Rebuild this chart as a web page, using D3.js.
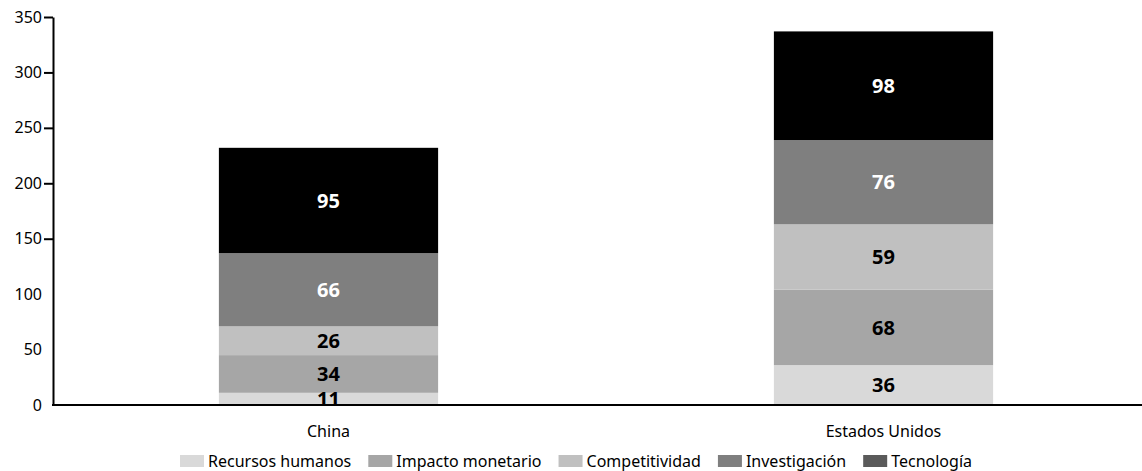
<!DOCTYPE html>
<html>
<head>
<meta charset="utf-8">
<script src="https://cdn.jsdelivr.net/npm/d3@7"></script>
<style>
  html, body { margin: 0; padding: 0; background: #fff; }
  svg { display: block; font-family: "Noto Sans", "Open Sans", sans-serif; }
</style>
</head>
<body>
<svg id="chart" width="1142" height="471"></svg>
<script>
// Countries on the x axis
const countries = ["China", "Estados Unidos"];
// Stacked components, bottom to top
const seriesNames = ["Recursos humanos", "Impacto monetario", "Competitividad", "Investigación", "Tecnología"];
const chinaValues = [11, 34, 26, 66, 95];
const usaValues = [36, 68, 59, 76, 98];
const barColors = ["#d9d9d9", "#a6a6a6", "#c0c0c0", "#7f7f7f", "#000000"];
const swatchColors = ["#d9d9d9", "#a6a6a6", "#c0c0c0", "#7f7f7f", "#5a5a5a"];
const labelColors = ["#000", "#000", "#000", "#fff", "#fff"];
const yTicks = [0, 50, 100, 150, 200, 250, 300, 350];

const svg = d3.select("#chart");
const chartW = 1142;
const plotLeft = 53, plotTop = 17, plotBottom = 405;

const rows = countries.map((c, i) => {
  const vals = [chinaValues, usaValues][i];
  const r = { country: c };
  seriesNames.forEach((s, k) => r[s] = vals[k]);
  return r;
});

const layers = d3.stack().keys(seriesNames)(rows);

const x = d3.scaleBand()
  .domain(countries)
  .range([51, 1161])
  .paddingInner(0.605)
  .paddingOuter(0.3025);

const y = d3.scaleLinear().domain([0, 350]).range([plotBottom, plotTop]);

// Bars
const layerG = svg.append("g").selectAll("g")
  .data(layers).join("g")
  .attr("fill", (d, i) => barColors[i]);

layerG.selectAll("rect")
  .data(d => d).join("rect")
  .attr("x", d => x(d.data.country))
  .attr("width", x.bandwidth())
  .attr("y", d => y(d[1]))
  .attr("height", d => y(d[0]) - y(d[1]));

// Value labels
layers.forEach((layer, i) => {
  svg.append("g").selectAll("text")
    .data(layer).join("text")
    .attr("x", d => x(d.data.country) + x.bandwidth() / 2)
    .attr("y", d => (y(d[0]) + y(d[1])) / 2)
    .attr("dy", "0.36em")
    .attr("text-anchor", "middle")
    .attr("font-size", 20)
    .attr("font-weight", 700)
    .attr("fill", labelColors[i])
    .text(d => d[1] - d[0]);
});

// Y axis
const yAxis = svg.append("g")
  .attr("transform", `translate(${plotLeft},0)`)
  .call(d3.axisLeft(y).tickValues(yTicks).tickSize(9).tickPadding(2).tickSizeOuter(0));
yAxis.select(".domain").attr("stroke", "#000").attr("stroke-width", 2);
yAxis.selectAll(".tick line")
  .attr("stroke", "#000").attr("stroke-width", 2)
  .attr("display", d => d >= 150 ? null : "none");
yAxis.selectAll(".tick text")
  .attr("font-size", 16).attr("fill", "#000")
  .attr("font-family", "Noto Sans, Open Sans, sans-serif");

// X axis baseline
svg.append("line")
  .attr("x1", plotLeft - 1).attr("x2", chartW)
  .attr("y1", plotBottom).attr("y2", plotBottom)
  .attr("stroke", "#000").attr("stroke-width", 2);

// Category labels
svg.append("g").selectAll("text")
  .data(countries).join("text")
  .attr("x", d => x(d) + x.bandwidth() / 2)
  .attr("y", 431)
  .attr("dy", "0.35em")
  .attr("text-anchor", "middle")
  .attr("font-size", 16)
  .attr("fill", "#000")
  .text(d => d);

// Legend, spread over a fixed span
const legendStart = 180, legendEnd = 972;
const legend = svg.append("g");
const items = legend.selectAll("g").data(seriesNames).join("g");
items.append("rect")
  .attr("width", 24).attr("height", 12)
  .attr("y", -6)
  .attr("fill", (d, i) => swatchColors[i]);
items.append("text")
  .attr("x", 28)
  .attr("dy", "0.35em")
  .attr("font-size", 16)
  .attr("fill", "#000")
  .text(d => d);
const widths = [];
items.each(function () {
  widths.push(28 + this.querySelector("text").getComputedTextLength());
});
const gap = (legendEnd - legendStart - d3.sum(widths)) / (widths.length - 1);
let cx = 0;
items.each(function (d, i) {
  d3.select(this).attr("transform", `translate(${cx},0)`);
  cx += widths[i] + gap;
});
legend.attr("transform", `translate(${legendStart},461)`);
</script>
</body>
</html>
